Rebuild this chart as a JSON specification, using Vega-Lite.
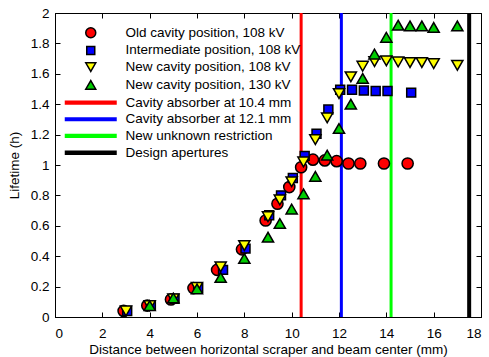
{
  "$schema": "https://vega.github.io/schema/vega-lite/v6.json",
  "width": 426,
  "height": 304,
  "autosize": {"type": "none"},
  "padding": {"left": 55, "top": 13, "right": 8, "bottom": 40},
  "background": "white",
  "config": {
    "font": "Liberation Sans",
    "view": {"stroke": "black", "strokeWidth": 1},
    "axis": {
      "grid": false,
      "domainColor": "black",
      "tickColor": "black",
      "tickSize": -5,
      "labelColor": "black",
      "titleColor": "black",
      "labelFontSize": 13.5,
      "titleFontSize": 13.5,
      "titleFontWeight": "normal"
    }
  },
  "datasets": {
    "lines": [
      {"series": "Cavity absorber at 10.4 mm", "x": 10.4},
      {"series": "Cavity absorber at 12.1 mm", "x": 12.1},
      {"series": "New unknown restriction", "x": 14.2},
      {"series": "Design apertures", "x": 17.5}
    ],
    "pts": [
      {"series": "Old cavity position, 108 kV", "x": 2.9, "y": 0.04},
      {"series": "Old cavity position, 108 kV", "x": 3.9, "y": 0.075},
      {"series": "Old cavity position, 108 kV", "x": 4.9, "y": 0.115},
      {"series": "Old cavity position, 108 kV", "x": 5.85, "y": 0.19},
      {"series": "Old cavity position, 108 kV", "x": 6.85, "y": 0.31},
      {"series": "Old cavity position, 108 kV", "x": 7.9, "y": 0.445},
      {"series": "Old cavity position, 108 kV", "x": 8.9, "y": 0.635},
      {"series": "Old cavity position, 108 kV", "x": 9.4, "y": 0.745},
      {"series": "Old cavity position, 108 kV", "x": 9.9, "y": 0.855},
      {"series": "Old cavity position, 108 kV", "x": 10.4, "y": 0.985},
      {"series": "Old cavity position, 108 kV", "x": 10.9, "y": 1.035},
      {"series": "Old cavity position, 108 kV", "x": 11.4, "y": 1.03},
      {"series": "Old cavity position, 108 kV", "x": 11.9, "y": 1.025},
      {"series": "Old cavity position, 108 kV", "x": 12.4, "y": 1.01},
      {"series": "Old cavity position, 108 kV", "x": 12.9, "y": 1.01},
      {"series": "Old cavity position, 108 kV", "x": 13.9, "y": 1.01},
      {"series": "Old cavity position, 108 kV", "x": 14.9, "y": 1.01},
      {"series": "Intermediate position, 108 kV", "x": 3.05, "y": 0.04},
      {"series": "Intermediate position, 108 kV", "x": 4.05, "y": 0.075},
      {"series": "Intermediate position, 108 kV", "x": 5.05, "y": 0.12},
      {"series": "Intermediate position, 108 kV", "x": 6.05, "y": 0.19},
      {"series": "Intermediate position, 108 kV", "x": 7.1, "y": 0.31},
      {"series": "Intermediate position, 108 kV", "x": 8.05, "y": 0.45},
      {"series": "Intermediate position, 108 kV", "x": 9.05, "y": 0.67},
      {"series": "Intermediate position, 108 kV", "x": 9.55, "y": 0.8},
      {"series": "Intermediate position, 108 kV", "x": 10.05, "y": 0.915},
      {"series": "Intermediate position, 108 kV", "x": 10.55, "y": 1.06},
      {"series": "Intermediate position, 108 kV", "x": 11.05, "y": 1.205},
      {"series": "Intermediate position, 108 kV", "x": 11.55, "y": 1.365},
      {"series": "Intermediate position, 108 kV", "x": 12.05, "y": 1.495},
      {"series": "Intermediate position, 108 kV", "x": 12.55, "y": 1.495},
      {"series": "Intermediate position, 108 kV", "x": 13.05, "y": 1.49},
      {"series": "Intermediate position, 108 kV", "x": 13.55, "y": 1.487},
      {"series": "Intermediate position, 108 kV", "x": 14.05, "y": 1.487},
      {"series": "Intermediate position, 108 kV", "x": 15.05, "y": 1.476},
      {"series": "New cavity position, 108 kV", "x": 3.0, "y": 0.04},
      {"series": "New cavity position, 108 kV", "x": 4.0, "y": 0.075},
      {"series": "New cavity position, 108 kV", "x": 5.0, "y": 0.12},
      {"series": "New cavity position, 108 kV", "x": 6.0, "y": 0.195},
      {"series": "New cavity position, 108 kV", "x": 7.0, "y": 0.33},
      {"series": "New cavity position, 108 kV", "x": 8.0, "y": 0.47},
      {"series": "New cavity position, 108 kV", "x": 9.0, "y": 0.66},
      {"series": "New cavity position, 108 kV", "x": 9.5, "y": 0.77},
      {"series": "New cavity position, 108 kV", "x": 10.0, "y": 0.89},
      {"series": "New cavity position, 108 kV", "x": 10.5, "y": 1.02},
      {"series": "New cavity position, 108 kV", "x": 11.0, "y": 1.167},
      {"series": "New cavity position, 108 kV", "x": 11.5, "y": 1.31},
      {"series": "New cavity position, 108 kV", "x": 12.0, "y": 1.47},
      {"series": "New cavity position, 108 kV", "x": 12.5, "y": 1.58},
      {"series": "New cavity position, 108 kV", "x": 13.0, "y": 1.65},
      {"series": "New cavity position, 108 kV", "x": 13.5, "y": 1.68},
      {"series": "New cavity position, 108 kV", "x": 14.0, "y": 1.685},
      {"series": "New cavity position, 108 kV", "x": 14.5, "y": 1.678},
      {"series": "New cavity position, 108 kV", "x": 15.0, "y": 1.674},
      {"series": "New cavity position, 108 kV", "x": 15.5, "y": 1.674},
      {"series": "New cavity position, 108 kV", "x": 16.0, "y": 1.667},
      {"series": "New cavity position, 108 kV", "x": 17.0, "y": 1.656},
      {"series": "New cavity position, 130 kV", "x": 4.0, "y": 0.075},
      {"series": "New cavity position, 130 kV", "x": 5.0, "y": 0.125},
      {"series": "New cavity position, 130 kV", "x": 6.0, "y": 0.185},
      {"series": "New cavity position, 130 kV", "x": 7.0, "y": 0.26},
      {"series": "New cavity position, 130 kV", "x": 8.0, "y": 0.385},
      {"series": "New cavity position, 130 kV", "x": 9.0, "y": 0.525},
      {"series": "New cavity position, 130 kV", "x": 9.5, "y": 0.615},
      {"series": "New cavity position, 130 kV", "x": 10.0, "y": 0.71},
      {"series": "New cavity position, 130 kV", "x": 10.5, "y": 0.81},
      {"series": "New cavity position, 130 kV", "x": 11.0, "y": 0.925},
      {"series": "New cavity position, 130 kV", "x": 11.5, "y": 1.065},
      {"series": "New cavity position, 130 kV", "x": 12.0, "y": 1.24},
      {"series": "New cavity position, 130 kV", "x": 12.5, "y": 1.4},
      {"series": "New cavity position, 130 kV", "x": 13.0, "y": 1.57},
      {"series": "New cavity position, 130 kV", "x": 13.5, "y": 1.73},
      {"series": "New cavity position, 130 kV", "x": 14.0, "y": 1.84},
      {"series": "New cavity position, 130 kV", "x": 14.5, "y": 1.92},
      {"series": "New cavity position, 130 kV", "x": 15.0, "y": 1.915},
      {"series": "New cavity position, 130 kV", "x": 15.5, "y": 1.915},
      {"series": "New cavity position, 130 kV", "x": 16.0, "y": 1.905},
      {"series": "New cavity position, 130 kV", "x": 17.0, "y": 1.915}
    ]
  },
  "resolve": {"axis": {"x": "independent", "y": "independent"}},
  "layer": [
    {
      "data": {"name": "lines"},
      "mark": {"type": "rule"},
      "encoding": {
        "x": {
          "field": "x", "type": "quantitative",
          "scale": {"domain": [0, 18], "nice": false},
          "axis": {"orient": "top", "labels": false, "title": null, "domain": false, "values": [0,2,4,6,8,10,12,14,16,18]}
        },
        "stroke": {
          "field": "series", "type": "nominal",
          "scale": {
            "domain": ["Old cavity position, 108 kV", "Intermediate position, 108 kV", "New cavity position, 108 kV", "New cavity position, 130 kV", "Cavity absorber at 10.4 mm", "Cavity absorber at 12.1 mm", "New unknown restriction", "Design apertures"],
            "range": ["#000000", "#000000", "#000000", "#000000", "#ff0000", "#0000ff", "#00ff00", "#000000"]
          }
        },
        "strokeWidth": {"condition": {"test": "datum.series == 'Design apertures'", "value": 4}, "value": 3}
      }
    },
    {
      "data": {"name": "pts"},
      "mark": {"type": "point", "filled": true, "opacity": 1, "strokeWidth": 1.5, "size": 125},
      "encoding": {
        "x": {
          "field": "x", "type": "quantitative",
          "scale": {"domain": [0, 18], "nice": false},
          "axis": {"orient": "bottom", "values": [0,2,4,6,8,10,12,14,16,18], "labelPadding": 14, "title": "Distance between horizontal scraper and beam center (mm)", "titlePadding": 3}
        },
        "y": {
          "field": "y", "type": "quantitative",
          "scale": {"domain": [0, 2], "nice": false},
          "axis": {"orient": "left", "values": [0,0.2,0.4,0.6,0.8,1,1.2,1.4,1.6,1.8,2], "format": "~g", "labelPadding": 11, "title": "Lifetime (h)", "titlePadding": 9}
        },
        "color": {
          "field": "series", "type": "nominal",
          "scale": {
            "domain": ["Old cavity position, 108 kV", "Intermediate position, 108 kV", "New cavity position, 108 kV", "New cavity position, 130 kV", "Cavity absorber at 10.4 mm", "Cavity absorber at 12.1 mm", "New unknown restriction", "Design apertures"],
            "range": ["#ff0000", "#0000ff", "#ffff00", "#00cc00", "#ff0000", "#0000ff", "#00ff00", "#000000"]
          },
          "legend": {
            "orient": "none", "legendX": 29, "legendY": 13,
            "title": null, "padding": 0, "labelFontSize": 13.5, "labelColor": "black",
            "labelOffset": 28, "symbolSize": 100, "rowPadding": 1.7, "labelLimit": 300,
            "symbolStrokeWidth": 1.5, "symbolOpacity": 1
          }
        },
        "stroke": {"field": "series", "type": "nominal"},
        "shape": {
          "field": "series", "type": "nominal",
          "scale": {
            "domain": ["Old cavity position, 108 kV", "Intermediate position, 108 kV", "New cavity position, 108 kV", "New cavity position, 130 kV", "Cavity absorber at 10.4 mm", "Cavity absorber at 12.1 mm", "New unknown restriction", "Design apertures"],
            "range": ["circle", "M-0.8,-0.8H0.8V0.8H-0.8Z", "triangle-down", "triangle-up", "M-5.05,-0.27H5.05V0.27H-5.05Z", "M-5.05,-0.27H5.05V0.27H-5.05Z", "M-5.05,-0.27H5.05V0.27H-5.05Z", "M-5.05,-0.3H5.05V0.3H-5.05Z"]
          }
        }
      }
    },
    {
      "data": {"name": "pts"},
      "mark": {"type": "point", "opacity": 0},
      "encoding": {
        "x": {"field": "x", "type": "quantitative", "axis": null},
        "y": {
          "field": "y", "type": "quantitative",
          "axis": {"orient": "right", "labels": false, "title": null, "domain": false, "values": [0,0.2,0.4,0.6,0.8,1,1.2,1.4,1.6,1.8,2]}
        }
      }
    }
  ]
}
